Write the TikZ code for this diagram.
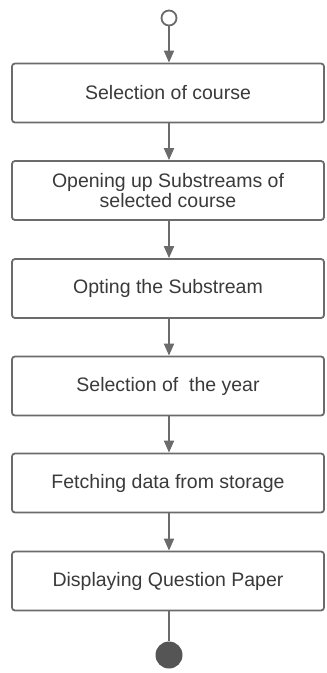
\documentclass[tikz,border=0pt]{standalone}
\usepackage{fontspec}
\setmainfont{Liberation Sans}
\usetikzlibrary{arrows.meta}
\definecolor{lineGray}{HTML}{6B6B6B}
\definecolor{textGray}{HTML}{3A3A3A}
\definecolor{dotGray}{HTML}{555555}
\tikzset{
	stepbox/.style={draw=lineGray,line width=1.8pt,rounded corners=3pt,fill=white,
		minimum width=312pt,minimum height=59pt,align=center,text=textGray,
		font=\fontsize{19.5pt}{20pt}\selectfont},
	flow/.style={draw=lineGray,line width=1.8pt,-{Triangle[length=12pt,width=10pt]}},
	startdot/.style={circle,draw=lineGray,line width=1.8pt,fill=white,inner sep=0pt,minimum size=15pt},
	enddot/.style={circle,fill=dotGray,inner sep=0pt,minimum size=27pt}
}
\begin{document}
\begin{tikzpicture}[x=1pt,y=-1pt]
\useasboundingbox (0,0) rectangle (327,673);
%start and end
\node[startdot] (start) at (169,18) {};
\node[enddot] (stop) at (169,655) {};

%steps
\node[stepbox] (s1) at (168,93) {Selection of course};
\node[stepbox] (s2) at (168,190.5) {Opening up Substreams of\\selected course};
\node[stepbox] (s3) at (168,288.5) {Opting the Substream};
\node[stepbox] (s4) at (168,386) {Selection of\ \ the year};
\node[stepbox] (s5) at (168,483) {Fetching data from storage};
\node[stepbox] (s6) at (168,581) {Displaying Question Paper};

\draw[flow] (start) -- (start|-s1.north);
\draw[flow] (s1.south-|start) -- (s2.north-|start);
\draw[flow] (s2.south-|start) -- (s3.north-|start);
\draw[flow] (s3.south-|start) -- (s4.north-|start);
\draw[flow] (s4.south-|start) -- (s5.north-|start);
\draw[flow] (s5.south-|start) -- (s6.north-|start);
\draw[lineGray,line width=1.8pt] (s6.south-|start) -- (stop);
\end{tikzpicture}
\end{document}
